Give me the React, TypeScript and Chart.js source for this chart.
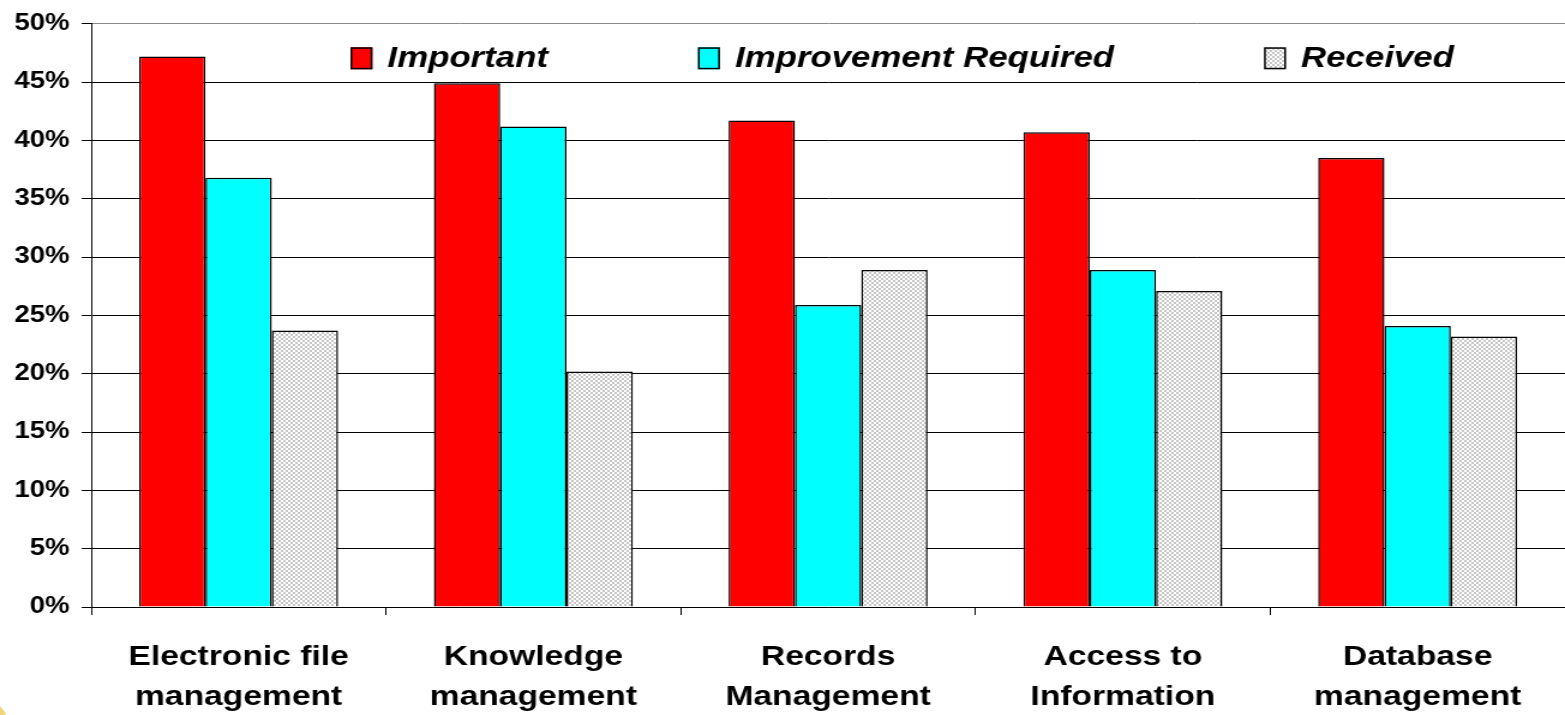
import React, { useEffect, useRef } from "react";
import { Chart, registerables } from "chart.js";

Chart.register(...registerables);

const categories: string[][] = [
  ["Electronic file", "management"],
  ["Knowledge", "management"],
  ["Records", "Management"],
  ["Access to", "Information"],
  ["Database", "management"],
];
const seriesNames = ["Important", "Improvement Required", "Received"];
const important = [47.2, 44.9, 41.7, 40.7, 38.5];
const improvementRequired = [36.8, 41.2, 25.9, 28.9, 24.1];
const received = [23.7, 20.2, 28.9, 27.1, 23.2];
const yMin = 0;
const yMax = 50;
const yStep = 5;

const FONT = '"Liberation Sans", Arial, sans-serif';
// the reference is drawn horizontally stretched; the canvas is drawn narrower and stretched back
const CANVAS_W = 1304;
const CANVAS_H = 715;
const STRETCH = 1565 / CANVAS_W;

function makeChecker(): CanvasPattern | string {
  const c = document.createElement("canvas");
  c.width = 4;
  c.height = 4;
  const g = c.getContext("2d");
  if (!g) return "#dddddd";
  g.fillStyle = "#ffffff";
  g.fillRect(0, 0, 4, 4);
  g.fillStyle = "#c6c6c6";
  g.fillRect(0, 0, 2, 2);
  g.fillRect(2, 2, 2, 2);
  const p = g.createPattern(c, "repeat");
  return p || "#dddddd";
}

const insideLegend = {
  id: "insideLegend",
  afterDraw(chart: any) {
    const { ctx, chartArea } = chart;
    ctx.save();
    ctx.font = `italic bold 29px ${FONT}`;
    ctx.textBaseline = "middle";
    ctx.textAlign = "left";
    const boxW = 22 / STRETCH;
    let x = chartArea.left + 216;
    const y = chartArea.top + 34.5;
    chart.data.datasets.forEach((ds: any) => {
      ctx.fillStyle = ds.backgroundColor;
      ctx.fillRect(x, y - 11, boxW, 22);
      ctx.lineWidth = 1.5;
      ctx.strokeStyle = "#000";
      ctx.strokeRect(x + 0.75, y - 10.25, boxW - 1.5, 20.5);
      ctx.fillStyle = "#000";
      const tx = x + boxW + 12.5;
      ctx.fillText(ds.label, tx, y + 1);
      x = tx + ctx.measureText(ds.label).width + 125;
    });
    ctx.restore();
  },
};

export default function App() {
  const ref = useRef<HTMLCanvasElement | null>(null);

  useEffect(() => {
    if (!ref.current) return;
    const checker = makeChecker();
    const chart = new Chart(ref.current, {
      type: "bar",
      data: {
        labels: categories,
        datasets: [
          {
            label: seriesNames[0],
            data: important,
            backgroundColor: "#ff0000",
            borderColor: "#000",
            borderWidth: 1.5,
          },
          {
            label: seriesNames[1],
            data: improvementRequired,
            backgroundColor: "#00ffff",
            borderColor: "#000",
            borderWidth: 1.5,
          },
          {
            label: seriesNames[2],
            data: received,
            backgroundColor: checker as any,
            borderColor: "#000",
            borderWidth: 1.5,
          },
        ],
      },
      options: {
        responsive: false,
        animation: false,
        devicePixelRatio: 1,
        layout: { padding: { top: 22, left: 0, right: 0, bottom: 0 } },
        datasets: {
          bar: { categoryPercentage: 0.675, barPercentage: 1.0 },
        },
        plugins: {
          legend: { display: false },
          tooltip: { enabled: false },
        },
        scales: {
          x: {
            offset: true,
            grid: {
              display: true,
              drawOnChartArea: false,
              drawTicks: true,
              tickLength: 8,
              color: "#000",
              offset: true,
            },
            border: { display: true, color: "#000", width: 1 },
            ticks: {
              color: "#000",
              padding: 22,
              maxRotation: 0,
              autoSkip: false,
              font: { family: FONT, size: 28, weight: "bold", lineHeight: 1.43 },
            },
            afterFit(scale: any) {
              scale.height = 108;
            },
          },
          y: {
            min: yMin,
            max: yMax,
            grid: {
              color: (c: any) => (c.tick && c.tick.value === yMax ? "#8a8a8a" : "#000"),
              tickColor: "#000",
              lineWidth: 1,
              drawTicks: true,
              tickLength: 8,
            },
            border: { display: true, color: "#000", width: 1 },
            ticks: {
              stepSize: yStep,
              color: "#000",
              padding: 10,
              font: { family: FONT, size: 23, weight: "bold" },
              callback: (v: any) => `${v}%`,
            },
            afterFit(scale: any) {
              scale.width = 76;
            },
          },
        },
      },
      plugins: [insideLegend],
    });
    return () => chart.destroy();
  }, []);

  return (
    <div
      style={{
        position: "absolute",
        left: 0,
        top: 0,
        width: 1565,
        height: 715,
        background: "#ffffff",
        overflow: "hidden",
      }}
    >
      <canvas
        ref={ref}
        width={CANVAS_W}
        height={CANVAS_H}
        style={{
          display: "block",
          width: CANVAS_W,
          height: CANVAS_H,
          transform: `scaleX(${STRETCH})`,
          transformOrigin: "0 0",
        }}
      />
      <div
        style={{
          position: "absolute",
          left: -40,
          top: 700,
          width: 48,
          height: 48,
          borderRadius: "50%",
          background: "radial-gradient(circle at 30% 70%, #e2bb2c 0%, #ecd068 60%, #f6e4a4 100%)",
        }}
      />
    </div>
  );
}
